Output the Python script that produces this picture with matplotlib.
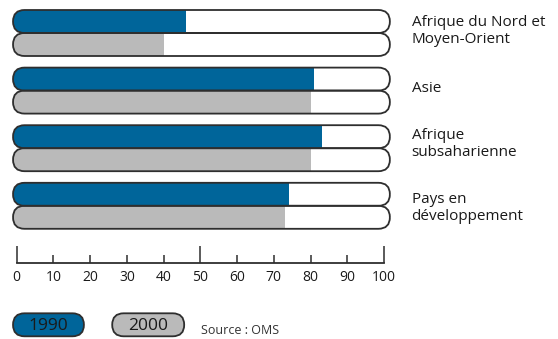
import numpy as np
import matplotlib
matplotlib.use("Agg")
import matplotlib.pyplot as plt
from matplotlib.patches import FancyBboxPatch

plt.rcParams['font.family'] = ['Open Sans', 'DejaVu Sans']

# Data
regions = ["Afrique du Nord et\nMoyen-Orient", "Asie",
           "Afrique\nsubsaharienne", "Pays en\ndéveloppement"]
values_1990 = [46, 81, 83, 74]
values_2000 = [40, 80, 80, 73]
ticks = list(range(0, 101, 10))
legend_labels = ["1990", "2000"]
source = "Source : OMS"

BLUE = "#00659a"
GREY = "#bababa"
EDGE = "#2e2e2e"
TEXT = "#1a1a1a"

W, H = 558, 339
fig = plt.figure(figsize=(W / 100, H / 100), dpi=100)

# value axis geometry (pixels)
X0_PX, X100_PX = 16.7, 384.0
PX_PER_UNIT = (X100_PX - X0_PX) / 100.0

ax = fig.add_axes([0, 0, 1, 1])
ax.set_xlim(-X0_PX / PX_PER_UNIT, (W - X0_PX) / PX_PER_UNIT)
ax.set_ylim(H, 0)
ax.axis("off")

BAR_H = 23.0
GROUP_TOP0 = 10.0
GROUP_STEP = 57.6
OUT_L, OUT_R = -1.0, 101.6
R_X = (BAR_H / 2) / PX_PER_UNIT
LABEL_TOP = [15.0, 81.0, 127.6, 192.0]


def rounded(x, y, w, h, **kw):
    return FancyBboxPatch((x, y), w, h,
                          boxstyle=f"round,pad=0,rounding_size={R_X}",
                          mutation_aspect=PX_PER_UNIT, **kw)


for i, (v90, v00) in enumerate(zip(values_1990, values_2000)):
    top = GROUP_TOP0 + i * GROUP_STEP
    for j, (val, col) in enumerate([(v90, BLUE), (v00, GREY)]):
        y = top + j * BAR_H
        bg = rounded(OUT_L, y, OUT_R - OUT_L, BAR_H, facecolor="white",
                     edgecolor="none", zorder=1)
        ax.add_patch(bg)
        bars = ax.barh([y + BAR_H / 2], [val - OUT_L], height=BAR_H,
                       left=OUT_L, color=col, zorder=2)
        for b in bars:
            b.set_clip_path(bg)
        ax.add_patch(rounded(OUT_L, y, OUT_R - OUT_L, BAR_H, facecolor="none",
                             edgecolor=EDGE, linewidth=1.3, zorder=3))
    ax.text(107.5, LABEL_TOP[i], regions[i], fontsize=11, color=TEXT,
            va="top", ha="left", linespacing=1.22)

# Legend
LEG_Y, LEG_H = 313.3, 23.0
for (x_l, x_r), lab, col in zip([(-1.0, 18.3), (26.0, 45.6)], legend_labels,
                                [BLUE, GREY]):
    ax.add_patch(rounded(x_l, LEG_Y, x_r - x_l, LEG_H, facecolor=col,
                         edgecolor=EDGE, linewidth=1.3, zorder=3))
    ax.text((x_l + x_r) / 2, 330.2, lab, fontsize=12.5,
            color=TEXT, ha="center", va="baseline", zorder=4)
ax.text(50.2, 334.3, source, fontsize=9, color="#333333", ha="left",
        va="baseline")

# Scale axis
AX_BASE = 263.3
sax = fig.add_axes([X0_PX / W, (H - AX_BASE) / H, (X100_PX - X0_PX) / W, 0.05])
sax.set_xlim(0, 100)
sax.set_ylim(0, 1)
for s in ["top", "left", "right"]:
    sax.spines[s].set_visible(False)
sax.spines["bottom"].set_color(EDGE)
sax.spines["bottom"].set_linewidth(1.3)
sax.set_yticks([])
sax.set_xticks(ticks)
sax.set_xticklabels([str(t) for t in ticks], fontsize=10, color=TEXT)
sax.tick_params(axis="x", direction="in", length=6, width=1.1, color=EDGE,
                pad=5)
for t, tk in zip(ticks, sax.xaxis.get_major_ticks()):
    if t in (0, 50, 100):
        tk.tick1line.set_markersize(12)
sax.patch.set_visible(False)

fig.savefig("out.png", dpi=100)
